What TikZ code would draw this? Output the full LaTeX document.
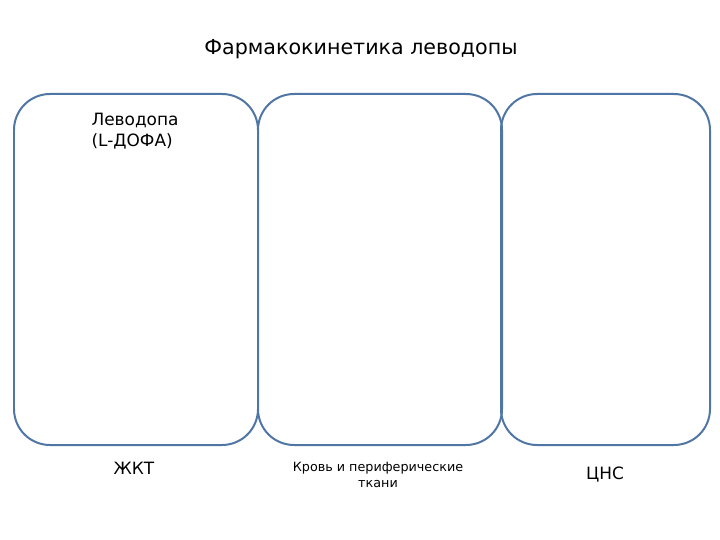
\documentclass[tikz,border=0pt]{standalone}
\usepackage{fontspec}
\setmainfont{DejaVu Sans}
\definecolor{panelblue}{RGB}{79,118,165}
\tikzset{
  panel/.style={draw=panelblue, line width=2pt, rounded corners=36bp,
    minimum width=#1, minimum height=351bp, inner sep=0pt},
  caption/.style={font=\fontsize{17}{21}\selectfont, align=center}
}

\begin{document}
\begin{tikzpicture}[x=1bp,y=-1bp]
  \useasboundingbox (0,0) rectangle (720,540);

  \node (title) at (361,49) {\fontsize{20.7}{24}\selectfont Фармакокинетика леводопы};

  % three compartments
  \node[panel=244bp] (gut) at (136,269.5) {};
  \node[panel=244bp] (blood) at (380,269.5) {};
  \node[panel=209bp] (cns) at (605.5,269.5) {};

  \node[anchor=north west, align=left, font=\fontsize{17}{21}\selectfont]
    (drug) at (88,110) {Леводопа\\(L-ДОФА)};

  \node[caption] (gutlabel) at (134,468) {ЖКТ};
  \node[caption, font=\fontsize{12.8}{16}\selectfont] (bloodlabel) at (378,475)
    {Кровь и периферические\\ткани};
  \node[caption] (cnslabel) at (605,475) {ЦНС};
\end{tikzpicture}
\end{document}
